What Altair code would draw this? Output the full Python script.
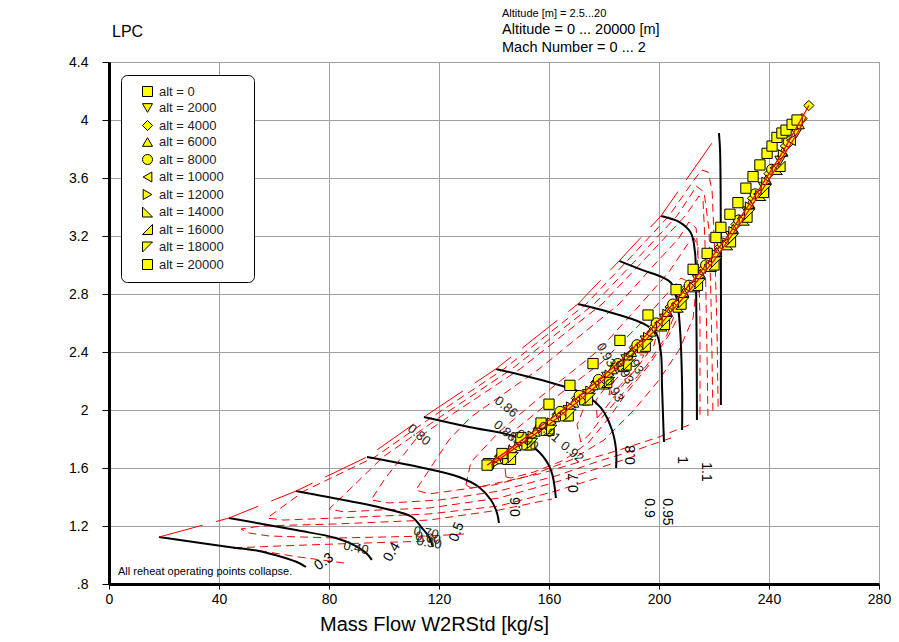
import altair as alt
import pandas as pd

# ---------------- axis ticks ----------------
x_ticks = [0, 40, 80, 120, 160, 200, 240, 280]
y_ticks = [0.8, 1.2, 1.6, 2.0, 2.4, 2.8, 3.2, 3.6, 4.0, 4.4]

# ---------------- speed lines (black) ----------------
speed_names = ["0.3", "0.4", "0.5", "0.6", "0.7", "0.8", "0.9", "0.95", "1", "1.1"]
speed_w = [
    [18.2, 43.6, 54.5, 62.9, 69.1, 71.6],
    [43.6, 68.0, 82.5, 89.8, 93.5, 95.6],
    [68.0, 87.3, 99.3, 110.2, 113.5, 116.4, 117.8],
    [93.8, 112.7, 127.3, 134.5, 138.9, 141.1, 141.8],
    [114.5, 130.9, 148.0, 156.4, 160.7, 162.5],
    [140.7, 161.1, 172.0, 178.9, 182.9, 184.4, 184.4],
    [170.5, 181.8, 193.8, 198.9, 200.7, 201.1, 201.8],
    [185.5, 193.8, 201.1, 204.4, 206.5, 207.6, 208.4, 208.4],
    [200.7, 207.3, 211.6, 213.1, 213.5, 213.8],
    [221.8, 222.2, 222.5, 222.5],
]
speed_pr = [
    [1.124, 1.055, 1.028, 0.986, 0.945, 0.917],
    [1.255, 1.172, 1.117, 1.062, 1.014, 0.966],
    [1.441, 1.372, 1.324, 1.262, 1.193, 1.124, 1.055],
    [1.676, 1.607, 1.538, 1.469, 1.379, 1.290, 1.221],
    [1.952, 1.883, 1.814, 1.710, 1.586, 1.393],
    [2.283, 2.186, 2.117, 2.014, 1.862, 1.724, 1.600],
    [2.731, 2.676, 2.600, 2.531, 2.393, 2.159, 1.779],
    [3.028, 2.966, 2.917, 2.876, 2.759, 2.572, 2.159, 1.862],
    [3.338, 3.297, 3.221, 3.083, 2.848, 1.931],
    [3.910, 3.793, 3.103, 2.034],
]
speed_lab_w = [78.2, 102.9, 126.5, 148.0, 169.1, 189.8, 196.4, 202.9, 208.4, 217.1]
speed_lab_pr = [0.952, 1.021, 1.159, 1.331, 1.497, 1.690, 1.324, 1.297, 1.655, 1.572]
speed_lab_ang = [325, 300, 290, 270, 270, 270, 90, 90, 90, 90]

# ---------------- surge line ----------------
surge_w = [18.2, 43.6, 68.0, 93.8, 114.5, 140.7, 170.5, 185.5, 200.7, 221.8]
surge_pr = [1.124, 1.255, 1.441, 1.676, 1.952, 2.283, 2.731, 3.028, 3.338, 3.910]

# ---------------- efficiency contours (red dashed) ----------------
eff_names = ["0.40", "0.50", "0.60", "0.70", "0.80", "0.86", "0.88", "0.90", "0.91", "0.92", "0.93"]
eff_w = [
    [85.5, 69.1, 55.3, 44.4, 61.8, 82.5, 105.5, 118.9],
    [129.1, 116.4, 82.5, 58.2, 50.9, 48.0, 55.3, 82.5, 116.4, 141.8, 161.1],
    [177.5, 162.5, 141.8, 116.4, 82.5, 63.6, 57.5, 70.9, 96.7, 117.5, 143.6, 173.5, 188.4, 203.6,
     212.7, 215.6, 217.8, 219.3, 220.4, 221.1, 221.5],
    [191.3, 178.2, 162.5, 141.8, 116.4, 98.2, 85.5, 80.0, 87.3, 99.6, 120.4, 146.5, 176.4, 191.3,
     206.5, 211.6, 213.5, 216.4, 218.2, 218.9, 219.3, 219.6],
    [204.4, 192.7, 178.2, 162.5, 141.8, 120.0, 101.8, 95.3, 100.0, 111.3, 123.3, 149.5, 179.3, 194.2,
     209.5, 213.1, 214.5, 216.0, 216.7, 217.1, 217.5, 217.8],
    [210.9, 200.0, 185.5, 170.9, 156.4, 134.5, 116.4, 111.6, 116.4, 123.6, 131.6, 156.4, 185.5, 198.2,
     207.3, 210.9, 213.5, 214.5, 214.9, 214.9, 214.9],
    [129.8, 131.6, 141.8, 156.4, 178.2, 192.7, 203.6, 210.2, 212.7, 214.2, 213.8, 212.4, 207.3, 200.0,
     190.9, 180.0, 168.0, 152.7, 140.0, 131.6, 129.8],
    [144.4, 143.6, 147.6, 161.1, 179.3, 192.7, 202.5, 208.0, 210.9, 209.1, 203.6, 196.4, 188.4, 181.8,
     174.5, 165.5, 154.5, 146.2, 144.4],
    [171.6, 170.2, 173.8, 182.5, 192.7, 200.7, 205.1, 206.5, 202.9, 195.6, 187.3, 180.0, 174.5, 171.6],
    [177.5, 177.1, 182.5, 190.9, 197.1, 199.3, 198.2, 192.7, 185.5, 180.0, 177.5],
    [181.8, 182.5, 187.3, 192.7, 194.5, 192.7, 188.4, 183.6, 181.8],
]
eff_pr = [
    [0.945, 0.986, 1.028, 1.048, 1.062, 1.076, 1.090, 1.097],
    [1.145, 1.131, 1.117, 1.131, 1.152, 1.179, 1.200, 1.214, 1.241, 1.310, 1.386],
    [1.531, 1.441, 1.338, 1.283, 1.255, 1.241, 1.255, 1.441, 1.676, 1.952, 2.283, 2.731, 3.028, 3.338,
     3.586, 3.655, 3.641, 3.517, 3.034, 2.552, 2.021],
    [1.683, 1.600, 1.503, 1.393, 1.324, 1.310, 1.297, 1.317, 1.448, 1.676, 1.952, 2.283, 2.731, 3.028,
     3.338, 3.483, 3.545, 3.503, 3.241, 2.759, 2.345, 1.986],
    [1.807, 1.731, 1.648, 1.545, 1.441, 1.379, 1.359, 1.379, 1.517, 1.793, 1.952, 2.283, 2.731, 3.028,
     3.338, 3.434, 3.476, 3.448, 3.172, 2.759, 2.345, 1.959],
    [1.897, 1.814, 1.724, 1.641, 1.559, 1.469, 1.421, 1.448, 1.586, 1.793, 1.952, 2.283, 2.731, 3.000,
     3.186, 3.297, 3.255, 2.966, 2.621, 2.276, 1.938],
    [1.483, 1.641, 1.848, 2.083, 2.414, 2.717, 2.952, 3.138, 3.186, 3.131, 2.897, 2.634, 2.414, 2.207,
     2.000, 1.793, 1.655, 1.545, 1.483, 1.462, 1.483],
    [1.538, 1.655, 1.862, 2.069, 2.331, 2.586, 2.793, 2.910, 2.883, 2.724, 2.517, 2.310, 2.124, 1.945,
     1.779, 1.655, 1.572, 1.531, 1.538],
    [1.779, 1.897, 2.069, 2.262, 2.469, 2.655, 2.759, 2.703, 2.517, 2.310, 2.124, 1.966, 1.828, 1.779],
    [1.945, 2.069, 2.207, 2.379, 2.517, 2.538, 2.448, 2.310, 2.138, 2.000, 1.945],
    [2.103, 2.172, 2.276, 2.379, 2.379, 2.310, 2.221, 2.124, 2.103],
]
eff_lab_text = ["0.80", "0.86", "0.88", "0.90", "0.91", "0.92", "0.40", "0.50", "0.60", "0.70",
                "0.93", "0.93", "0.93", "0.93"]
eff_lab_w = [112.7, 144.4, 144.0, 152.0, 160.0, 168.4, 89.8, 116.4, 116.0, 115.3,
             180.7, 187.3, 183.6, 190.9]
eff_lab_pr = [1.828, 2.021, 1.855, 1.793, 1.848, 1.710, 1.048, 1.083, 1.117, 1.152,
              2.379, 2.262, 2.138, 2.331]
eff_lab_ang = [40, 40, 40, 40, 40, 40, 12, 10, 10, 10, 60, 60, 60, 60]

# ---------------- operating points per altitude ----------------
alt_labels = ["alt = 0", "alt = 2000", "alt = 4000", "alt = 6000", "alt = 8000", "alt = 10000",
              "alt = 12000", "alt = 14000", "alt = 16000", "alt = 18000", "alt = 20000"]
alt_shapes = ["square", "triangle-down", "diamond", "triangle-up", "circle", "triangle-left",
              "triangle-right", "M-1,-1L-1,1L1,1Z", "M1,-1L1,1L-1,1Z", "M-1,-1L1,-1L-1,1Z", "square"]
alt_fill = ["#ffff00"] * 11
alt_edge = ["#000000"] * 11

w_a0 = [137.5, 160.0, 167.6, 176.0, 185.8, 196.0, 206.2, 212.4, 217.5, 220.7, 222.5, 225.8, 228.7,
        231.6, 234.2, 236.7, 239.3, 241.1, 242.9, 244.7, 246.2, 248.4, 250.2]
pr_a0 = [1.62, 2.04, 2.17, 2.32, 2.48, 2.655, 2.83, 2.97, 3.08, 3.19, 3.26, 3.35, 3.43,
         3.53, 3.61, 3.69, 3.77, 3.82, 3.88, 3.91, 3.93, 3.97, 4.00]
w_a2 = [139, 146, 153, 160, 167, 174, 181, 188, 195, 202, 208, 214, 220, 226, 232, 238, 244, 250]
pr_a2 = [1.61, 1.70, 1.80, 1.90, 2.00, 2.11, 2.23, 2.35, 2.48, 2.63, 2.77, 2.90, 3.04, 3.20, 3.37, 3.54, 3.72, 3.91]
w_a4 = [142, 149, 156, 163, 170, 177, 184, 191, 198, 204, 210, 216, 222, 228, 234, 240, 246, 252, 254.5]
pr_a4 = [1.68, 1.78, 1.87, 1.97, 2.08, 2.19, 2.30, 2.43, 2.57, 2.71, 2.84, 2.97, 3.12, 3.28, 3.46, 3.63, 3.82, 4.01, 4.10]
w_a6 = [141, 148, 155, 162, 169, 176, 183, 190, 197, 203, 209, 215, 221, 227, 233, 239, 245, 251]
pr_a6 = [1.66, 1.75, 1.85, 1.95, 2.05, 2.17, 2.28, 2.40, 2.54, 2.68, 2.81, 2.94, 3.09, 3.25, 3.42, 3.59, 3.78, 3.97]
w_a8 = [143, 150, 157, 164, 171, 178, 185, 192, 199, 205, 211, 217, 223, 229, 235, 241, 247]
pr_a8 = [1.69, 1.79, 1.89, 1.99, 2.10, 2.21, 2.32, 2.45, 2.60, 2.73, 2.86, 3.00, 3.15, 3.31, 3.49, 3.66, 3.85]
w_a10 = [144, 151, 158, 165, 172, 179, 186, 193, 200, 206, 212, 218, 224, 230, 236, 242, 248]
pr_a10 = [1.69, 1.78, 1.88, 1.98, 2.09, 2.20, 2.32, 2.45, 2.60, 2.73, 2.86, 3.00, 3.15, 3.32, 3.49, 3.67, 3.86]
w_a12 = [140, 147, 154, 161, 168, 175, 182, 189, 196, 203, 209, 215, 221, 227, 233, 239, 245]
pr_a12 = [1.63, 1.72, 1.82, 1.91, 2.02, 2.13, 2.24, 2.36, 2.50, 2.66, 2.79, 2.92, 3.07, 3.23, 3.40, 3.57, 3.76]
w_a14 = [145, 152, 159, 166, 173, 180, 187, 194, 201, 207, 213, 219, 225, 231, 237, 243]
pr_a14 = [1.66, 1.76, 1.86, 1.96, 2.07, 2.18, 2.30, 2.43, 2.58, 2.71, 2.85, 2.99, 3.14, 3.31, 3.48, 3.66]
w_a16 = [146, 153, 160, 167, 174, 181, 188, 195, 202, 208, 214, 220, 226, 232, 238, 244]
pr_a16 = [1.66, 1.76, 1.86, 1.96, 2.07, 2.19, 2.31, 2.44, 2.59, 2.73, 2.86, 3.00, 3.16, 3.33, 3.50, 3.68]
w_a18 = [147, 154, 161, 168, 175, 182, 189, 196, 203, 209, 215, 221, 227, 233, 239]
pr_a18 = [1.67, 1.77, 1.86, 1.97, 2.08, 2.19, 2.31, 2.45, 2.61, 2.74, 2.87, 3.02, 3.18, 3.35, 3.52]
w_a20 = [138.0, 142.9, 149.8, 157.1]
pr_a20 = [1.63, 1.70, 1.81, 1.91]

# operating lines (red solid)
op_w = [
    [137.5, 145, 155, 165, 175, 185, 195, 205, 215, 225, 235, 245, 254.5],
    [139, 150, 160, 170, 180, 190, 200, 210, 220, 230, 240, 250, 253.5],
]
op_pr = [
    [1.62, 1.72, 1.86, 2.00, 2.16, 2.32, 2.51, 2.73, 2.95, 3.20, 3.48, 3.78, 4.10],
    [1.62, 1.77, 1.90, 2.05, 2.21, 2.38, 2.58, 2.80, 3.03, 3.30, 3.59, 3.90, 4.02],
]

# ---------------- build tables ----------------
def lines_df(names, ws, prs):
    rows = []
    for n, w, p in zip(names, ws, prs):
        for i, (a, b) in enumerate(zip(w, p)):
            rows.append({"c": n, "i": i, "W": a, "PR": b})
    return pd.DataFrame(rows)

df_speed = lines_df(speed_names, speed_w, speed_pr)
df_eff = lines_df(eff_names, eff_w, eff_pr)
df_surge = lines_df(["surge"], [surge_w], [surge_pr])
df_op = lines_df(["op1", "op2"], op_w, op_pr)

series = [
    ("alt = 2000", w_a2, pr_a2), ("alt = 4000", w_a4, pr_a4), ("alt = 6000", w_a6, pr_a6),
    ("alt = 8000", w_a8, pr_a8), ("alt = 10000", w_a10, pr_a10), ("alt = 12000", w_a12, pr_a12),
    ("alt = 14000", w_a14, pr_a14), ("alt = 16000", w_a16, pr_a16), ("alt = 18000", w_a18, pr_a18),
    ("alt = 20000", w_a20, pr_a20), ("alt = 0", w_a0, pr_a0),
]
prow = []
for lab, ws, ps in series:
    for a, b in zip(ws, ps):
        prow.append({"alt": lab, "W": a, "PR": b})
df_pts = pd.DataFrame(prow)

df_slab = pd.DataFrame({"t": speed_names, "W": speed_lab_w, "PR": speed_lab_pr, "a": speed_lab_ang})
df_elab = pd.DataFrame({"t": eff_lab_text, "W": eff_lab_w, "PR": eff_lab_pr, "a": eff_lab_ang})

# ---------------- encodings ----------------
FONT = "Liberation Sans"
x_enc = alt.X("W:Q", scale=alt.Scale(domain=[0, 280], nice=False, zero=False),
              axis=alt.Axis(values=x_ticks, title="Mass Flow W2RStd [kg/s]", tickSize=5,
                            labelPadding=3, labelFontSize=14, titleFontSize=20,
                            titleX=325, titleY=30, titleBaseline="top", titleAlign="center",
                            labelFlush=False))
y_enc = alt.Y("PR:Q", scale=alt.Scale(domain=[0.8, 4.4], nice=False, zero=False),
              axis=alt.Axis(values=y_ticks, title=None, tickSize=7, labelPadding=14,
                            labelFontSize=14, labelFlush=False,
                            labelExpr="datum.value < 1 ? '.8' : format(datum.value, '.2~f')"))

leg = alt.Legend(title="WW", titleOrient="right", titleColor="white",
                 titleFontSize=8, titlePadding=4,
                 orient="none", legendX=12, legendY=13,
                 fillColor="white", strokeColor="black", cornerRadius=6,
                 padding=10, labelFont=FONT, labelFontSize=13,
                 labelColor="#222222", symbolSize=100, symbolStrokeWidth=1,
                 symbolOffset=10, labelOffset=5, rowPadding=2.5)

contours = alt.Chart(df_eff).mark_line(color="#ff0000", strokeWidth=1, strokeDash=[8, 5]).encode(
    x=x_enc, y=y_enc, detail="c:N", order="i:Q")
speed = alt.Chart(df_speed).mark_line(color="black", strokeWidth=2, interpolate="catmull-rom").encode(
    x=x_enc, y=y_enc, detail="c:N", order="i:Q")
surge = alt.Chart(df_surge).mark_line(color="#ff0000", strokeWidth=1, strokeDash=[45, 14]).encode(
    x=x_enc, y=y_enc, order="i:Q")
points = alt.Chart(df_pts).mark_point(filled=True, size=105, opacity=1, strokeWidth=1).encode(
    x=x_enc, y=y_enc,
    shape=alt.Shape("alt:N", scale=alt.Scale(domain=alt_labels, range=alt_shapes), legend=leg),
    fill=alt.Fill("alt:N", scale=alt.Scale(domain=alt_labels, range=alt_fill), legend=leg),
    stroke=alt.Stroke("alt:N", scale=alt.Scale(domain=alt_labels, range=alt_edge), legend=leg),
)
oplines = alt.Chart(df_op).mark_line(color="#ff0000", strokeWidth=1.3).encode(
    x=x_enc, y=y_enc, detail="c:N", order="i:Q")
speed_text = alt.Chart(df_slab).mark_text(font=FONT, fontSize=14, color="black").encode(
    x=x_enc, y=y_enc, text="t:N", angle=alt.Angle("a:Q", scale=None))
eff_text = alt.Chart(df_elab).mark_text(font=FONT, fontSize=13, color="#222222").encode(
    x=x_enc, y=y_enc, text="t:N", angle=alt.Angle("a:Q", scale=None))

def label(txt, x, y, size):
    return alt.Chart(pd.DataFrame({"t": [txt]})).mark_text(
        font=FONT, fontSize=size, align="left", baseline="middle", color="black").encode(
        x=alt.value(x), y=alt.value(y), text="t:N")

t_lpc = label("LPC", 3, -30, 16)
t_a1 = label("Altitude [m] = 2.5...20", 393, -48, 11)
t_a2 = label("Altitude = 0 ... 20000 [m]", 393, -32, 14.5)
t_a3 = label("Mach Number = 0 ... 2", 393, -14, 14.5)
t_note = label("All reheat operating points collapse.", 9, 510, 11)

chart = alt.layer(contours, speed, surge, points, oplines, speed_text, eff_text,
                  t_lpc, t_a1, t_a2, t_a3, t_note).properties(
    width=770, height=522,
    padding={"left": 101, "top": 54, "right": 12, "bottom": 56},
    autosize=alt.AutoSizeParams(type="none"),
).configure_view(stroke="#a0a0a0", strokeWidth=1).configure_axis(
    labelFont=FONT, titleFont=FONT, labelColor="black", titleColor="black",
    gridColor="#a0a0a0", gridWidth=1, domainColor="black", domainWidth=3,
    tickColor="black", titleFontWeight="normal")

chart.save("out.html", embed_options={"renderer": "svg", "actions": False})
